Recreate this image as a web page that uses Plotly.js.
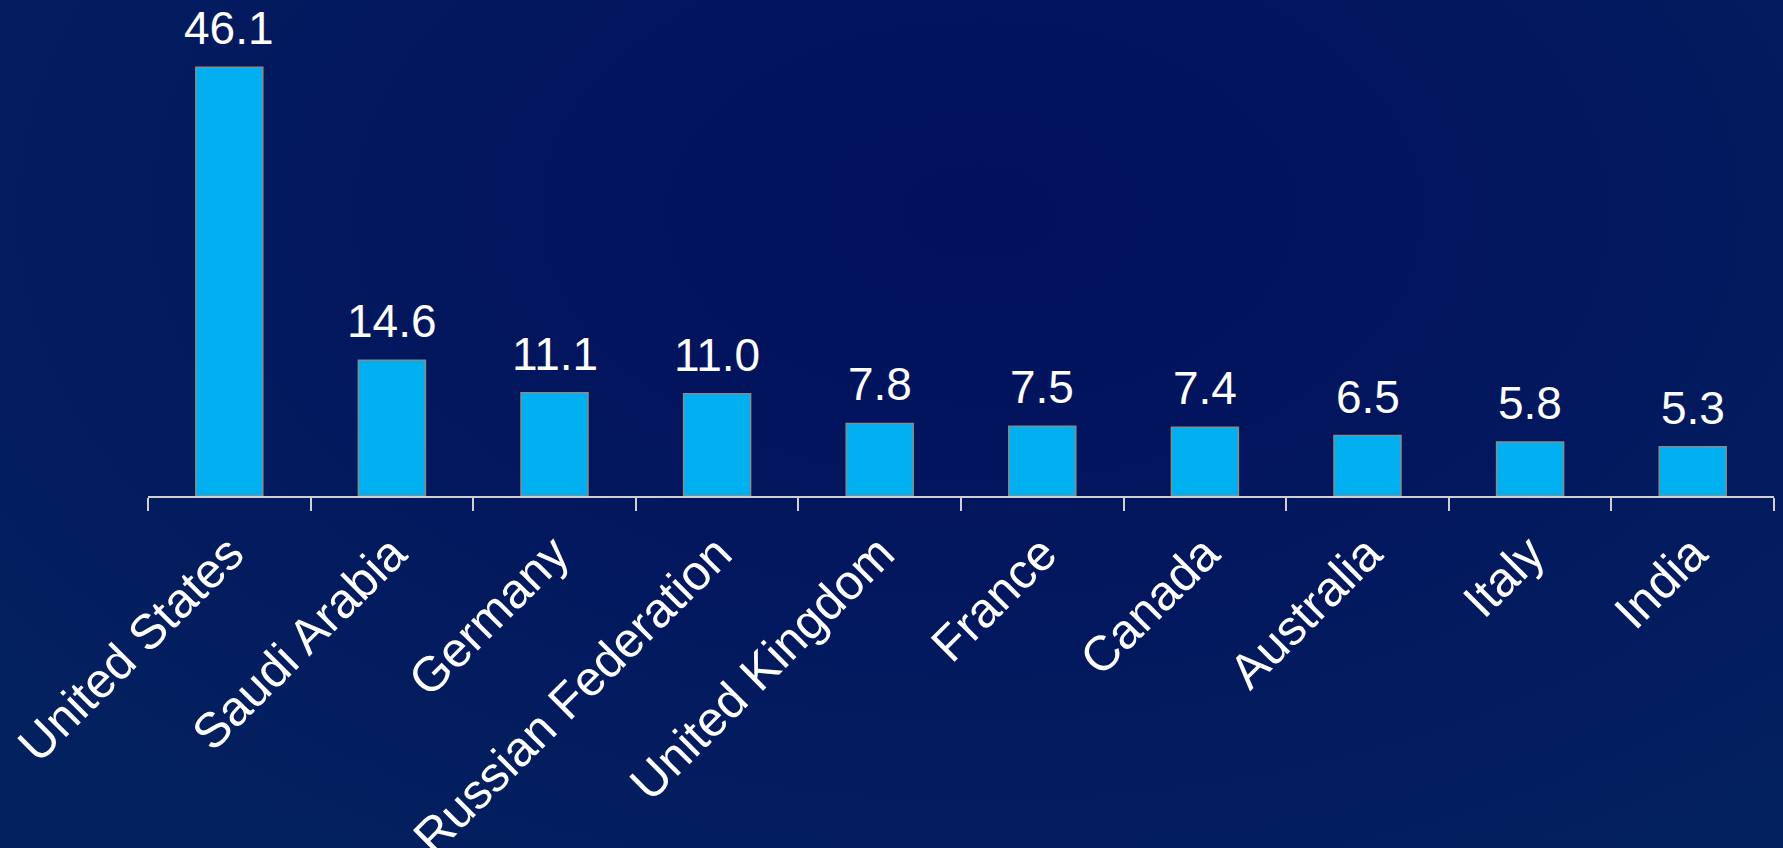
<!DOCTYPE html>
<html>
<head>
<meta charset="utf-8">
<script src="https://cdn.plot.ly/plotly-3.0.1.min.js"></script>
<style>
  html, body { margin: 0; padding: 0; width: 1783px; height: 848px; overflow: hidden;
    background: radial-gradient(ellipse 70% 90% at 55% 25%, #02115c 0%, #02165e 45%, #04215f 100%); }
  #chart { width: 1783px; height: 848px; }
</style>
</head>
<body>
<div id="chart"></div>
<script>
const countries = ["United States", "Saudi Arabia", "Germany", "Russian Federation", "United Kingdom", "France", "Canada", "Australia", "Italy", "India"];
const values = [46.1, 14.6, 11.1, 11.0, 7.8, 7.5, 7.4, 6.5, 5.8, 5.3];
const valueLabels = ["46.1", "14.6", "11.1", "11.0", "7.8", "7.5", "7.4", "6.5", "5.8", "5.3"];

const trace = {
  type: "bar",
  x: countries,
  y: values,
  marker: { color: "#00b0f0", line: { color: "#8a8a8a", width: 1.5 } },
  hoverinfo: "x+y"
};

const annotations = countries.map((c, i) => ({
  x: c,
  y: values[i],
  xref: "x",
  yref: "y",
  text: valueLabels[i],
  showarrow: false,
  yanchor: "bottom",
  xanchor: "center",
  yshift: 11,
  font: { family: "Liberation Sans, Arial, sans-serif", size: 46, color: "#ffffff" }
}));

const layout = {
  width: 1783,
  height: 848,
  paper_bgcolor: "rgba(0,0,0,0)",
  plot_bgcolor: "rgba(0,0,0,0)",
  margin: { l: 148, r: 9, t: 31, b: 352 },
  bargap: 0.588,
  showlegend: false,
  annotations: annotations,
  font: { family: "Liberation Sans, Arial, sans-serif", color: "#ffffff" },
  xaxis: {
    type: "category",
    tickangle: -45,
    tickson: "boundaries",
    ticks: "outside",
    ticklen: 13,
    tickwidth: 2,
    tickcolor: "#d0d0d0",
    showline: true,
    linecolor: "#d0d0d0",
    linewidth: 2,
    showgrid: false,
    ticklabelstandoff: 7,
    tickfont: { family: "Liberation Sans, Arial, sans-serif", size: 49, color: "#ffffff" },
    fixedrange: true
  },
  yaxis: {
    range: [0, 50],
    visible: false,
    showgrid: false,
    zeroline: false,
    fixedrange: true
  }
};

Plotly.newPlot("chart", [trace], layout, { displayModeBar: false, staticPlot: true });
</script>
</body>
</html>
